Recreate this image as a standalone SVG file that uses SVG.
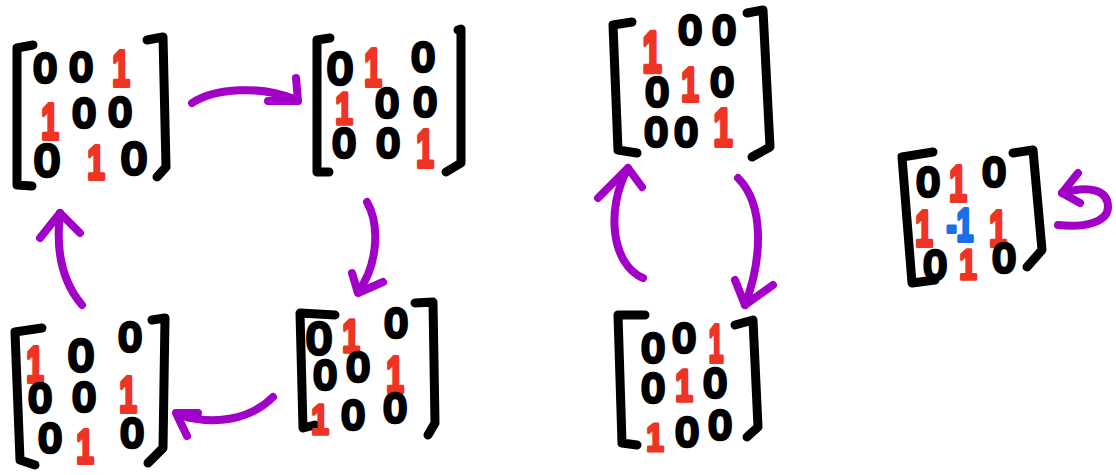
<svg xmlns="http://www.w3.org/2000/svg" width="1116" height="475" viewBox="0 0 1116 475">
  <style>
    .br { fill: none; stroke: #000; stroke-width: 9; stroke-linecap: round; stroke-linejoin: round; }
    .ar { fill: none; stroke: #a000c8; stroke-width: 8; stroke-linecap: round; stroke-linejoin: round; }
    text { font-family: "Liberation Sans", "Open Sans", sans-serif; text-anchor: middle; stroke-linejoin: round; stroke-linecap: round; }
    .z { font-size: 40px; fill: #000; stroke: #000; stroke-width: 4.5; }
    .zl { font-size: 45px; fill: #000; stroke: #000; stroke-width: 4.5; }
    .o { font-size: 44px; font-weight: bold; fill: #ee3424; stroke: #ee3424; stroke-width: 3.5; }
    .b { font-size: 42px; font-weight: bold; fill: #1a6fe8; stroke: #1a6fe8; stroke-width: 3.5; }
  </style>

  <!-- matrix A -->
  <g id="matA">
    <path class="br" d="M33,45 L17,48 L17,185 L32,186"/>
    <path class="br" d="M147,40 L163,37 L166,167 L157,177"/>
    <text class="z" x="45" y="82">0</text>
    <text class="z" x="81" y="81">0</text>
    <text class="o" transform="translate(121,86) scale(0.72,1.15)">1</text>
    <text class="o" transform="translate(50,139) scale(0.72,1.15)">1</text>
    <text class="z" x="84" y="127">0</text>
    <text class="z" x="120" y="126">0</text>
    <text class="zl" x="47" y="176">0</text>
    <text class="o" transform="translate(96,179) scale(0.72,1.1)">1</text>
    <text class="zl" x="134" y="174">0</text>
  </g>

  <!-- matrix B -->
  <g id="matB">
    <path class="br" d="M330,38 L317,40 L317,172 L329,172"/>
    <path class="br" d="M458,30 L461,29 L461,163 L446,172"/>
    <text class="zl" x="340" y="84">0</text>
    <text class="o" transform="translate(373,86) scale(0.72,1.2)">1</text>
    <text class="z" x="423" y="71">0</text>
    <text class="o" transform="translate(344,124) scale(0.72,1.0)">1</text>
    <text class="z" x="387" y="117">0</text>
    <text class="z" x="425" y="116">0</text>
    <text class="z" x="344" y="157">0</text>
    <text class="z" x="388" y="157">0</text>
    <text class="o" transform="translate(425,167) scale(0.72,1.2)">1</text>
  </g>

  <!-- matrix C -->
  <g id="matC">
    <path class="br" d="M632,22 L613,25 L618,150 L637,153"/>
    <path class="br" d="M747,13 L763,10 L770,147 L752,157"/>
    <text class="o" transform="translate(652,72) scale(0.78,1.3)">1</text>
    <text class="z" x="690" y="44">0</text>
    <text class="z" x="724" y="44">0</text>
    <text class="z" x="657" y="106">0</text>
    <text class="o" transform="translate(690,101) scale(0.72,1.1)">1</text>
    <text class="z" x="722" y="96">0</text>
    <text class="z" x="656" y="146">0</text>
    <text class="z" x="686" y="146">0</text>
    <text class="o" transform="translate(723,146) scale(0.78,1.2)">1</text>
  </g>

  <!-- matrix D -->
  <g id="matD">
    <path class="br" d="M933,152 L902,157 L912,283 L935,280"/>
    <path class="br" d="M1013,153 L1033,150 L1042,250 L1027,267"/>
    <text class="z" x="928" y="196">0</text>
    <text class="o" transform="translate(958,201) scale(0.72,1.15)">1</text>
    <text class="z" x="994" y="186">0</text>
    <text class="o" transform="translate(924,246) scale(0.72,1.15)">1</text>
    <text class="b" transform="translate(960,241) scale(0.72,1.1)">-1</text>
    <text class="o" transform="translate(998,246) scale(0.72,1.15)">1</text>
    <text class="z" x="935" y="279">0</text>
    <text class="o" transform="translate(968,279) scale(0.72,0.95)">1</text>
    <text class="z" x="1004" y="272">0</text>
  </g>

  <!-- matrix E -->
  <g id="matE">
    <path class="br" d="M42,328 L15,332 L20,460 L35,465"/>
    <path class="br" d="M152,320 L165,318 L163,448 L148,463"/>
    <text class="o" transform="translate(35,382) scale(0.72,1.15)">1</text>
    <text class="zl" x="81" y="371">0</text>
    <text class="z" x="130" y="351">0</text>
    <text class="z" x="40" y="412">0</text>
    <text class="z" x="84" y="411">0</text>
    <text class="o" transform="translate(128,412) scale(0.72,1.15)">1</text>
    <text class="z" x="50" y="452">0</text>
    <text class="o" transform="translate(85,463) scale(0.72,1.1)">1</text>
    <text class="z" x="132" y="447">0</text>
  </g>

  <!-- matrix F -->
  <g id="matF">
    <path class="br" d="M335,315 L300,313 L303,428 L315,425"/>
    <path class="br" d="M415,303 L433,302 L435,423 L428,435"/>
    <text class="zl" x="319" y="354">0</text>
    <text class="o" transform="translate(351,352) scale(0.72,1.05)">1</text>
    <text class="z" x="396" y="337">0</text>
    <text class="z" x="325" y="389">0</text>
    <text class="z" x="358" y="381">0</text>
    <text class="o" transform="translate(395,392) scale(0.72,1.15)">1</text>
    <text class="o" transform="translate(320,434) scale(0.72,0.95)">1</text>
    <text class="z" x="353" y="429">0</text>
    <text class="z" x="395" y="422">0</text>
  </g>

  <!-- matrix G -->
  <g id="matG">
    <path class="br" d="M645,315 L618,315 L622,443 L637,445"/>
    <path class="br" d="M735,325 L753,320 L758,427 L747,437"/>
    <text class="z" x="653" y="362">0</text>
    <text class="z" x="684" y="352">0</text>
    <text class="o" transform="translate(716,362) scale(0.6,1.2)">1</text>
    <text class="z" x="653" y="402">0</text>
    <text class="o" transform="translate(684,401) scale(0.72,1.0)">1</text>
    <text class="z" x="715" y="397">0</text>
    <text class="o" transform="translate(655,451) scale(0.72,0.9)">1</text>
    <text class="z" x="687" y="446">0</text>
    <text class="z" x="720" y="439">0</text>
  </g>

  <!-- connectors -->
  <g id="connectors">
    <path class="ar" d="M192,103 C215,88 260,85 297,100"/>
    <path class="ar" d="M296,78 L298,101 L268,101"/>
    <path class="ar" d="M367,202 C380,225 378,265 358,292"/>
    <path class="ar" d="M352,273 L358,293 L383,282"/>
    <path class="ar" d="M273,397 C250,420 215,425 182,416"/>
    <path class="ar" d="M198,413 L176,413 L187,436"/>
    <path class="ar" d="M82,305 C65,285 55,255 60,213"/>
    <path class="ar" d="M40,238 L60,213 L80,233"/>
    <path class="ar" d="M738,178 C765,205 762,260 745,305"/>
    <path class="ar" d="M735,280 L745,305 L773,285"/>
    <path class="ar" d="M643,278 C612,265 605,210 628,168"/>
    <path class="ar" d="M598,198 L628,168 L642,187"/>
    <path class="ar" d="M1058,225 C1085,228 1108,222 1108,207 C1108,190 1090,185 1062,193"/>
    <path class="ar" d="M1078,173 L1062,193 L1080,203"/>
  </g>
</svg>
